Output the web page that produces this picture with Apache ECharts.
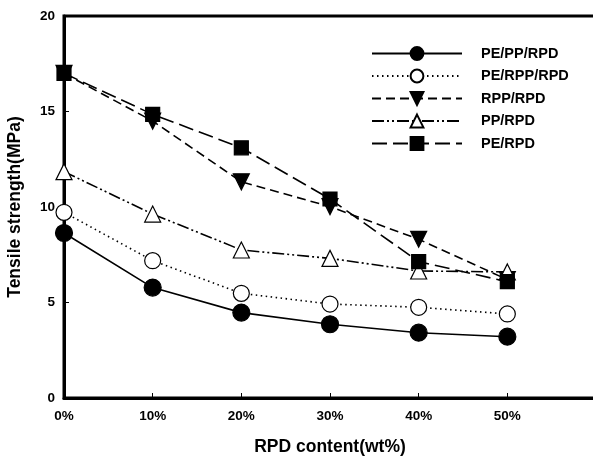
<!DOCTYPE html>
<html><head><meta charset="utf-8">
<script src="https://cdn.jsdelivr.net/npm/echarts@6/dist/echarts.min.js"></script>
<style>html,body{margin:0;padding:0;background:#fff}#c{width:593px;height:459px}</style>
</head><body><div id="c"></div>
<script>
const xValues = [0, 10, 20, 30, 40, 50];
const xTickLabels = ['0%', '10%', '20%', '30%', '40%', '50%'];
const yTicks = [0, 5, 10, 15, 20];
const seriesNames = ['PE/PP/RPD', 'PE/RPP/RPD', 'RPP/RPD', 'PP/RPD', 'PE/RPD'];
const pePpRpd = [8.64, 5.78, 4.47, 3.86, 3.42, 3.21];
const peRppRpd = [9.72, 7.19, 5.48, 4.92, 4.75, 4.40];
const rppRpd = [17.0, 14.5, 11.32, 10.02, 8.31, 6.2];
const ppRpd = [11.85, 9.63, 7.75, 7.31, 6.65, 6.6];
const peRpd = [17.0, 14.85, 13.1, 10.42, 7.14, 6.09];

const valuesList = [pePpRpd, peRppRpd, rppRpd, ppRpd, peRpd];
const styles = [
  {symbol: 'circle', size: 17, fill: '#000', dash: 'solid'},
  {symbol: 'circle', size: 16, fill: '#fff', dash: [1.5, 3.5]},
  {symbol: 'path://M0,0 L10,0 L5,9 Z', size: 16, fill: '#000', dash: [9, 5]},
  {symbol: 'triangle', size: 16, fill: '#fff', dash: [12, 3, 2, 3, 2, 3]},
  {symbol: 'rect', size: 14, fill: '#000', dash: [15, 6]}
];
const series = seriesNames.map((n, i) => ({
  name: n, type: 'line',
  data: xValues.map((x, j) => [x, valuesList[i][j]]),
  symbol: styles[i].symbol, symbolSize: styles[i].size,
  lineStyle: {color: '#000', width: 1.6, type: styles[i].dash},
  itemStyle: {color: styles[i].fill, borderColor: '#000', borderWidth: 1.2},
  z: 2 + i
}));

const chart = echarts.init(document.getElementById('c'));
chart.setOption({
  animation: false,
  backgroundColor: '#fff',
  textStyle: {fontFamily: 'Liberation Sans, Arial, sans-serif'},
  grid: {left: 64, width: 532, top: 16, height: 382, outerBoundsMode: 'none', containLabel: false,
    show: true, borderColor: '#000', borderWidth: 3},
  legend: {
    orient: 'vertical', left: 366, top: 41, itemWidth: 90, itemHeight: 16, itemGap: 7.5,
    textStyle: {fontSize: 14.5, fontWeight: 'bold', color: '#000', padding: [0, 0, 0, 14]},
    data: seriesNames
  },
  xAxis: {
    type: 'value', min: 0, max: 60, interval: 10,
    name: 'RPD content(wt%)', nameLocation: 'middle', nameGap: 40,
    nameTextStyle: {fontSize: 17.5, fontWeight: 'bold', color: '#000'},
    axisLine: {lineStyle: {color: '#000', width: 3}},
    axisTick: {inside: true, length: 5, lineStyle: {color: '#000', width: 1}},
    axisLabel: {fontSize: 13.5, fontWeight: 'bold', color: '#000', margin: 11,
      formatter: v => { const i = xValues.indexOf(v); return i >= 0 ? xTickLabels[i] : ''; }},
    splitLine: {show: false}
  },
  yAxis: {
    type: 'value', min: yTicks[0], max: yTicks[yTicks.length - 1], interval: 5,
    name: 'Tensile strength(MPa)', nameLocation: 'middle', nameGap: 40, nameRotate: 90,
    nameTextStyle: {fontSize: 17.5, fontWeight: 'bold', color: '#000'},
    axisLine: {lineStyle: {color: '#000', width: 3}},
    axisTick: {inside: true, length: 5, lineStyle: {color: '#000', width: 1}},
    axisLabel: {fontSize: 13.5, fontWeight: 'bold', color: '#000', margin: 9},
    splitLine: {show: false}
  },
  series: series
});
</script></body></html>
